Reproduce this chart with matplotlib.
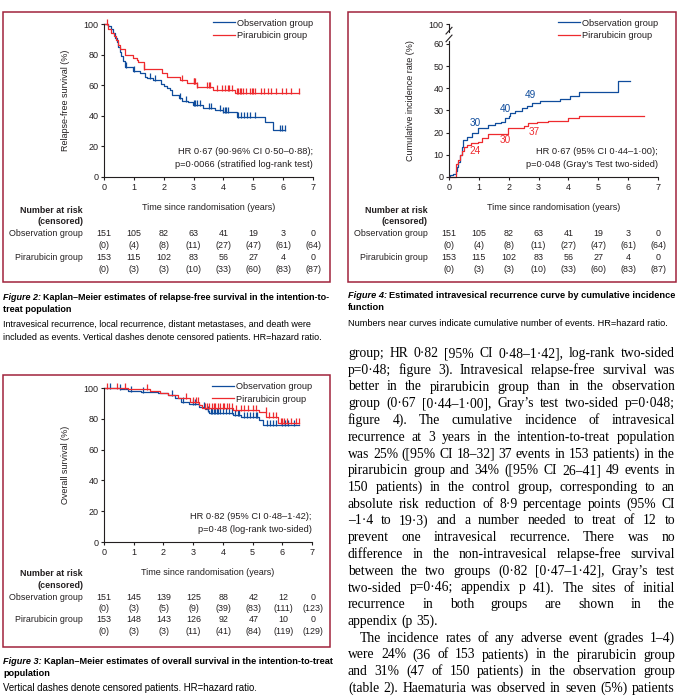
import numpy as np
import matplotlib
matplotlib.use('Agg')
import matplotlib.pyplot as plt
from matplotlib.patches import Rectangle
from matplotlib.lines import Line2D

# ---------------- data ----------------
years = [0, 1, 2, 3, 4, 5, 6, 7]
grp_names = ['Observation group', 'Pirarubicin group']

# Figure 2: relapse-free survival (KM steps)
rfs_obs_t = [0, 0.12, 0.22, 0.3, 0.36, 0.42, 0.48, 0.53, 0.58, 0.63, 0.7, 0.98, 1.2, 1.37, 1.45,
             1.63, 1.9, 2.0, 2.1, 2.2, 2.27, 2.5, 2.6, 2.82, 2.99, 3.33, 3.72, 4.0, 4.45, 5.39, 5.65, 6.06]
rfs_obs_s = [100, 99, 97, 94, 91, 88, 85, 82, 79, 76, 72, 69, 67.7, 65.5, 64.5,
             63.3, 61, 59.5, 58, 56.7, 53.5, 51.4, 50, 48.8, 47.1, 45.4, 43.8, 42.7, 39.4, 35.7, 30.7, 30.7]
rfs_pir_t = [0, 0.15, 0.25, 0.33, 0.4, 0.47, 0.54, 0.7, 0.98, 1.09, 1.15, 1.35, 1.93, 2.1, 2.55,
             2.77, 3.1, 3.66, 4.39, 6.54]
rfs_pir_s = [100, 97, 94, 92, 89.5, 86, 83.4, 79.7, 78, 76.5, 75.3, 70.6, 67.7, 65.5, 63.4,
             61.2, 59, 56.9, 54.7, 54.7]
rfs_obs_cens = [0.75, 1.0, 1.55, 1.7, 2.55, 2.75, 3.0, 3.05, 3.1, 3.2, 3.5, 3.6, 3.9, 4.0, 4.05,
                4.1, 4.15, 4.5, 4.6, 4.7, 4.8, 4.9, 5.05, 5.9, 5.95, 6.05]
rfs_pir_cens = [0.1, 1.35, 2.6, 3.0, 3.03, 3.06, 3.1, 3.45, 3.5, 3.55, 3.8, 3.95, 4.05, 4.15, 4.2,
                4.3, 4.45, 4.5, 4.55, 4.6, 4.65, 4.75, 4.9, 4.95, 5.0, 5.05, 5.25, 5.35, 5.5, 5.6,
                5.75, 5.95, 6.1, 6.25, 6.52]
rfs_risk_obs = [151, 105, 82, 63, 41, 19, 3, 0]
rfs_cens_obs = [0, 4, 8, 11, 27, 47, 61, 64]
rfs_risk_pir = [153, 115, 102, 83, 56, 27, 4, 0]
rfs_cens_pir = [0, 3, 3, 10, 33, 60, 83, 87]

# Figure 4: cumulative incidence of intravesical recurrence
cif_obs_t = [0, 0.05, 0.15, 0.22, 0.26, 0.31, 0.37, 0.42, 0.48, 0.59, 0.76, 0.98, 1.32, 1.55, 1.75,
             1.88, 2.0, 2.04, 2.21, 2.43, 2.6, 2.77, 3.05, 3.72, 4.05, 4.37, 5.65, 6.06]
cif_obs_v = [0, 0.7, 1.4, 2.8, 4.5, 6.8, 9.8, 13.6, 16.6, 18.1, 19.9, 21.9, 23.4, 24.2, 24.9,
             26.4, 27.5, 28.7, 29.9, 30.9, 32, 33.2, 34.1, 35.1, 36.6, 38.2, 43.3, 43.3]
cif_pir_t = [0, 0.22, 0.3, 0.37, 0.45, 0.5, 0.6, 0.75, 0.98, 1.1, 1.3, 1.99, 2.5, 2.66, 2.95,
             3.3, 4.0, 4.37, 6.54]
cif_pir_v = [0, 6, 7.5, 9.8, 11.8, 13.6, 14.3, 15.4, 15.8, 17.8, 19.6, 21.9, 23, 24.4, 24.9,
             25.2, 26.4, 27.3, 27.3]
cif_obs_counts = [30, 40, 49]
cif_obs_count_xy = [(0.87, 24.4), (1.88, 30.7), (2.71, 37)]
cif_pir_counts = [24, 30, 37]
cif_pir_count_xy = [(0.87, 11.7), (1.88, 16.7), (2.85, 20.3)]

# Figure 3: overall survival
os_obs_t = [0, 0.54, 0.82, 1.26, 1.82, 2.16, 2.38, 2.6, 2.85, 3.2, 3.39, 3.5, 3.55, 4.34, 4.62,
            5.23, 5.35, 6.56]
os_obs_s = [100, 99.4, 98, 97.6, 96.5, 95.5, 93.3, 91, 89.6, 87.9, 86.5, 85.3, 83.5, 82.5, 81,
            79.2, 76, 76]
os_pir_t = [0, 0.82, 1.54, 1.88, 2.16, 2.49, 2.9, 3.2, 3.3, 4.34, 5.23, 5.46, 5.85, 6.56]
os_pir_s = [100, 99.4, 98, 96.5, 95.5, 93.3, 91, 89, 86.8, 85.7, 84.2, 81.4, 77.5, 77.5]
os_obs_cens = [0.2, 0.55, 0.9, 1.3, 2.3, 2.65, 3.0, 3.05, 3.35, 3.5, 3.6, 3.65, 3.7, 3.75, 3.8,
               3.85, 3.9, 4.0, 4.1, 4.2, 4.3, 4.4, 4.5, 4.55, 4.7, 4.8, 4.9, 5.0, 5.1, 5.15, 5.5,
               5.6, 5.7, 5.8, 6.0, 6.1, 6.2, 6.4]
os_pir_cens = [0.1, 0.45, 0.7, 1.45, 2.75, 3.0, 3.1, 3.15, 3.4, 3.45, 3.55, 3.65, 3.7, 3.75, 3.85,
               3.9, 4.0, 4.05, 4.15, 4.2, 4.3, 4.45, 4.6, 4.7, 4.85, 5.0, 5.1, 5.45, 5.55, 5.7,
               5.8, 5.95, 6.0, 6.05, 6.15, 6.3, 6.45, 6.55]
os_risk_obs = [151, 145, 139, 125, 88, 42, 12, 0]
os_cens_obs = [0, 3, 5, 9, 39, 83, 111, 123]
os_risk_pir = [153, 148, 143, 126, 92, 47, 10, 0]
os_cens_pir = [0, 3, 3, 11, 41, 84, 119, 129]

body_lines = [
    "group; HR 0·82 [95% CI 0·48–1·42], log-rank two-sided",
    "p=0·48; figure 3). Intravesical relapse-free survival was",
    "better in the pirarubicin group than in the observation",
    "group (0·67 [0·44–1·00], Gray’s test two-sided p=0·048;",
    "figure 4). The cumulative incidence of intravesical",
    "recurrence at 3 years in the intention-to-treat population",
    "was 25% ([95% CI 18–32] 37 events in 153 patients) in the",
    "pirarubicin group and 34% ([95% CI 26–41] 49 events in",
    "150 patients) in the control group, corresponding to an",
    "absolute risk reduction of 8·9 percentage points (95% CI",
    "–1·4 to 19·3) and a number needed to treat of 12 to",
    "prevent one intravesical recurrence. There was no",
    "difference in the non-intravesical relapse-free survival",
    "between the two groups (0·82 [0·47–1·42], Gray’s test",
    "two-sided p=0·46; appendix p 41). The sites of initial",
    "recurrence in both groups are shown in the",
    "appendix (p 35).",
    "The incidence rates of any adverse event (grades 1–4)",
    "were 24% (36 of 153 patients) in the pirarubicin group",
    "and 31% (47 of 150 patients) in the observation group",
    "(table 2). Haematuria was observed in seven (5%) patients",
]

# ---------------- styling ----------------
W, H = 686, 700
BLUE = '#0f4c9c'
RED = '#ee2a2e'
BOX = '#a0233c'
INK = '#231f20'
SANS = ['Liberation Sans', 'DejaVu Sans']
SERIF = ['Liberation Serif', 'DejaVu Serif']
plt.rcParams['font.family'] = SANS

fig = plt.figure(figsize=(W / 100, H / 100), dpi=100)
rend = fig.canvas.get_renderer()


def fx(x):
    return x / W


def fy(y):
    return 1 - y / H


def text_width(s, size, **kw):
    t = fig.text(0, 0, s, fontsize=size, **kw)
    w = t.get_window_extent(rend).width
    t.remove()
    return w


def step_val(t_list, v_list, t):
    i = np.searchsorted(np.asarray(t_list), t, side='right') - 1
    return np.asarray(v_list)[max(i, 0)]


def make_axes(left, top, right, bottom):
    ax = fig.add_axes([fx(left), fy(bottom), (right - left) / W, (bottom - top) / H])
    for s in ['top', 'right']:
        ax.spines[s].set_visible(False)
    for s in ['left', 'bottom']:
        ax.spines[s].set_color(INK)
        ax.spines[s].set_linewidth(0.8)
    ax.tick_params(direction='out', length=2.5, width=0.8, colors=INK, labelsize=6.5, pad=1.5)
    ax.set_xlim(0, 7)
    ax.set_xticks(years)
    ax.set_facecolor('none')
    ax.set_xlabel('Time since randomisation (years)', fontsize=6.5, color=INK)
    ax.xaxis.set_label_coords(0.5, -0.17)
    return ax


def km(ax, t, s, cens, color):
    ax.step(t, s, where='post', color=color, lw=0.9, clip_on=False)
    cy = [step_val(t, s, c) + 1.3 for c in cens]
    ax.plot(cens, cy, ls='none', marker='|', ms=4.0, mew=0.9, color=color, clip_on=False)


def legend(ax):
    hs = [Line2D([], [], color=BLUE, lw=0.9), Line2D([], [], color=RED, lw=0.9)]
    ax.legend(hs, grp_names, loc='upper right', bbox_to_anchor=(1.02, 1.06), frameon=False,
              fontsize=6.7, handlelength=2.3, handletextpad=0.3, labelspacing=0.35,
              borderaxespad=0, labelcolor=INK)


def risk_table(xlab, x0, ytop, r_obs, c_obs, r_pir, c_pir):
    kw = dict(fontsize=6.4, color=INK)
    fig.text(fx(xlab), fy(ytop), 'Number at risk', ha='right', va='center', fontweight='bold', **kw)
    fig.text(fx(xlab), fy(ytop + 12), '(censored)', ha='right', va='center', fontweight='bold', **kw)
    fig.text(fx(xlab), fy(ytop + 24), grp_names[0], ha='right', va='center', **kw)
    fig.text(fx(xlab), fy(ytop + 47), grp_names[1], ha='right', va='center', **kw)
    for i, yr in enumerate(years):
        xx = fx(x0 + yr * 29.86)
        fig.text(xx, fy(ytop + 24), str(r_obs[i]), ha='center', va='center', **kw)
        fig.text(xx, fy(ytop + 35.5), '({})'.format(c_obs[i]), ha='center', va='center', **kw)
        fig.text(xx, fy(ytop + 47), str(r_pir[i]), ha='center', va='center', **kw)
        fig.text(xx, fy(ytop + 59), '({})'.format(c_pir[i]), ha='center', va='center', **kw)


def caption(x, y, head, title_lines, desc_lines, width=326):
    # fit the bold title so that its first line spans the panel width
    size = 7.2
    w_head = text_width(head + ' ', size, fontweight='bold', style='italic')
    w_line = text_width(title_lines[0], size, fontweight='bold')
    size = min(size * width / (w_head + w_line), 7.2)
    t1 = fig.text(fx(x), fy(y), head, fontsize=size, fontweight='bold', style='italic',
                  va='center', color='black')
    w = t1.get_window_extent(rend).width
    fig.text(fx(x + w + 2), fy(y), title_lines[0], fontsize=size, fontweight='bold',
             va='center', color='black')
    yy = y
    for ln in title_lines[1:]:
        yy += 12
        fig.text(fx(x), fy(yy), ln, fontsize=size, fontweight='bold', va='center', color='black')
    dsize = min(width / max(text_width(d, 6.6) for d in desc_lines) * 6.6 * 0.98, 6.9)
    yy += 2
    for ln in desc_lines:
        yy += 13
        fig.text(fx(x), fy(yy), ln, fontsize=dsize, va='center', color='black')


# panel frames
for (l, t, r, b) in [(3, 12, 330, 282), (348, 12, 676, 282), (3, 375, 330, 647)]:
    fig.patches.append(Rectangle((fx(l), fy(b)), (r - l) / W, (b - t) / H, transform=fig.transFigure,
                                 fill=False, edgecolor=BOX, lw=1.1))

# ---------- Figure 2 ----------
ax1 = make_axes(104, 24, 313, 177)
ax1.set_ylim(0, 100)
ax1.set_yticks([0, 20, 40, 60, 80, 100])
ax1.set_ylabel('Relapse-free survival (%)', fontsize=6.5, color=INK)
ax1.yaxis.set_label_coords(-0.163, 0.5)
km(ax1, rfs_obs_t, rfs_obs_s, rfs_obs_cens, BLUE)
km(ax1, rfs_pir_t, rfs_pir_s, rfs_pir_cens, RED)
legend(ax1)
ax1.text(1.0, 0.165, 'HR 0·67 (90·96% CI 0·50–0·88);', transform=ax1.transAxes, ha='right',
         va='center', fontsize=6.7, color=INK)
ax1.text(1.0, 0.08, 'p=0·0066 (stratified log-rank test)', transform=ax1.transAxes, ha='right',
         va='center', fontsize=6.7, color=INK)
risk_table(83, 104, 210, rfs_risk_obs, rfs_cens_obs, rfs_risk_pir, rfs_cens_pir)
caption(3, 297, 'Figure 2:', ['Kaplan–Meier estimates of relapse-free survival in the intention-to-',
                              'treat population'],
        ['Intravesical recurrence, local recurrence, distant metastases, and death were',
         'included as events. Vertical dashes denote censored patients. HR=hazard ratio.'])

# ---------- Figure 4 ----------
ax2 = make_axes(449, 24, 658, 177)
ax2.set_ylim(0, 69)
ax2.set_yticks([0, 10, 20, 30, 40, 50, 60, 69])
ax2.set_yticklabels(['0', '10', '20', '30', '40', '50', '60', '100'])
ax2.spines['left'].set_visible(False)
ax2.plot([0, 0], [0, 61.5], color=INK, lw=0.8, clip_on=False)
ax2.plot([0, 0], [65.5, 69], color=INK, lw=0.8, clip_on=False)
for yb in (61.0, 64.5):
    ax2.plot([-0.1, 0.1], [yb, yb + 3.0], color=INK, lw=0.8, clip_on=False)
ax2.set_ylabel('Cumulative incidence rate (%)', fontsize=6.5, color=INK)
ax2.yaxis.set_label_coords(-0.163, 0.5)
ax2.step(cif_obs_t, cif_obs_v, where='post', color=BLUE, lw=0.9, clip_on=False)
ax2.step(cif_pir_t, cif_pir_v, where='post', color=RED, lw=0.9, clip_on=False)
for n, (xx, yy) in zip(cif_obs_counts, cif_obs_count_xy):
    ax2.text(xx, yy, str(n), color=BLUE, fontsize=7.2, ha='center', va='center')
for n, (xx, yy) in zip(cif_pir_counts, cif_pir_count_xy):
    ax2.text(xx, yy, str(n), color=RED, fontsize=7.2, ha='center', va='center')
legend(ax2)
ax2.text(1.0, 0.165, 'HR 0·67 (95% CI 0·44–1·00);', transform=ax2.transAxes, ha='right',
         va='center', fontsize=6.7, color=INK)
ax2.text(1.0, 0.08, 'p=0·048 (Gray’s Test two-sided)', transform=ax2.transAxes, ha='right',
         va='center', fontsize=6.7, color=INK)
risk_table(428, 449, 210, rfs_risk_obs, rfs_cens_obs, rfs_risk_pir, rfs_cens_pir)
caption(348, 296, 'Figure 4:', ['Estimated intravesical recurrence curve by cumulative incidence',
                                'function'],
        ['Numbers near curves indicate cumulative number of events. HR=hazard ratio.'])

# ---------- Figure 3 ----------
ax3 = make_axes(104, 388, 312, 542)
ax3.set_ylim(0, 100)
ax3.set_yticks([0, 20, 40, 60, 80, 100])
ax3.set_ylabel('Overall survival (%)', fontsize=6.5, color=INK)
ax3.yaxis.set_label_coords(-0.163, 0.5)
km(ax3, os_obs_t, os_obs_s, os_obs_cens, BLUE)
km(ax3, os_pir_t, os_pir_s, os_pir_cens, RED)
legend(ax3)
ax3.text(1.0, 0.165, 'HR 0·82 (95% CI 0·48–1·42);', transform=ax3.transAxes, ha='right',
         va='center', fontsize=6.7, color=INK)
ax3.text(1.0, 0.08, 'p=0·48 (log-rank two-sided)', transform=ax3.transAxes, ha='right',
         va='center', fontsize=6.7, color=INK)
risk_table(83, 104, 573, os_risk_obs, os_cens_obs, os_risk_pir, os_cens_pir)
caption(3, 661, 'Figure 3:', ['Kaplan–Meier estimates of overall survival in the intention-to-treat',
                              'population'],
        ['Vertical dashes denote censored patients. HR=hazard ratio.'])

# ---------- body text column (justified) ----------
x_left, x_right = 348, 675
base = 10.0
widest = max(text_width(ln, base, family=SERIF) for ln in body_lines)
body_size = base * (x_right - x_left - 4) / widest
for k, line in enumerate(body_lines):
    y = 353 + 16.75 * k + 4.0   # baseline
    words = line.split(' ')
    start = x_left + (12 if k == 17 else 0)
    objs = [fig.text(0, 0, w_, fontsize=body_size, family=SERIF, color='black', va='baseline')
            for w_ in words]
    widths = [o.get_window_extent(rend).width for o in objs]
    last_of_par = (k == 16)
    if len(words) > 1 and not last_of_par:
        gap = (x_right - start - sum(widths)) / (len(words) - 1)
    else:
        gap = body_size * 100 / 72 * 0.25
    xx = start
    for o, w_ in zip(objs, widths):
        o.set_position((fx(xx), fy(y)))
        xx += w_ + gap

fig.savefig('out.png', dpi=100)
